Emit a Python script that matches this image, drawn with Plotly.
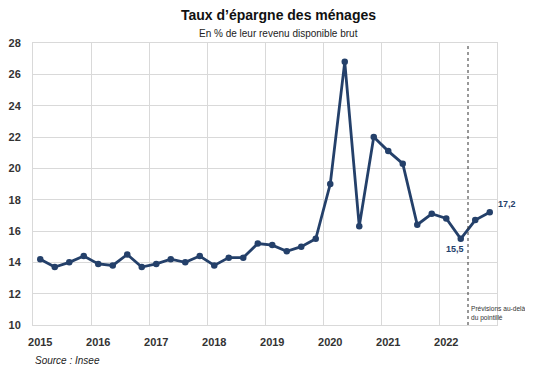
import plotly.graph_objects as go

years = ["2015", "2016", "2017", "2018", "2019", "2020", "2021", "2022"]
quarters = [f"{y}T{q}" for y in years for q in range(1, 5)]
taux = [14.2, 13.7, 14.0, 14.4,
        13.9, 13.8, 14.5, 13.7,
        13.9, 14.2, 14.0, 14.4,
        13.8, 14.3, 14.3, 15.2,
        15.1, 14.7, 15.0, 15.5,
        19.0, 26.8, 16.3, 22.0,
        21.1, 20.3, 16.4, 17.1,
        16.8, 15.5, 16.7, 17.2]
y_ticks = [10, 12, 14, 16, 18, 20, 22, 24, 26, 28]
labelled = {29: "15,5", 31: "17,2"}
forecast_start = 29.5

# page body has an 8px margin: figure is drawn at (8, 8); keep it inside the window
W, H = 517, 359
ml, mr, mt, mb = 25, 28, 35, 42
pw = W - ml - mr

idx = list(range(len(taux)))
line_col = "#24406a"
grid_col = "#d9d9d9"

fig = go.Figure()
fig.add_trace(go.Scatter(
    x=idx, y=taux, mode="lines+markers",
    line=dict(color=line_col, width=2.8),
    marker=dict(color=line_col, size=6.5),
    hovertext=quarters, showlegend=False))

fig.add_shape(type="line", x0=forecast_start, x1=forecast_start, y0=10, y1=28,
              xref="x", yref="y", line=dict(color="#333333", width=1, dash="dot"))

for i, t in labelled.items():
    if i == 31:
        fig.add_annotation(x=i, y=taux[i], text=t, showarrow=False, xref="x", yref="y",
                           xanchor="left", yshift=8, xshift=6,
                           font=dict(family="Liberation Sans", size=9, color=line_col, weight="bold"))
    else:
        fig.add_annotation(x=i, y=taux[i], text=t, showarrow=False, xref="x", yref="y",
                           yshift=-10, xshift=-6,
                           font=dict(family="Liberation Sans", size=9, color=line_col, weight="bold"))

fig.add_annotation(x=forecast_start, y=10, xref="x", yref="y", xanchor="left", yanchor="bottom",
                   xshift=1, yshift=1, align="left", showarrow=False,
                   text="Prévisions au-delà<br>du pointillé",
                   font=dict(family="Liberation Sans", size=6.6, color="#333333"))

tx = (270 - ml) / pw
fig.add_annotation(x=tx, y=1, xref="paper", yref="paper", yanchor="middle", yshift=(mt - 7),
                   text="<b>Taux d’épargne des ménages</b>", showarrow=False,
                   font=dict(family="Liberation Sans", size=14, color="#111111"))
fig.add_annotation(x=tx, y=1, xref="paper", yref="paper", yanchor="middle", yshift=(mt - 25),
                   text="En % de leur revenu disponible brut", showarrow=False,
                   font=dict(family="Liberation Sans", size=10, color="#222222"))
fig.add_annotation(x=0, y=0, xref="paper", yref="paper", xanchor="left", yanchor="middle",
                   yshift=-35,
                   text="<i>Source : Insee</i>", showarrow=False,
                   font=dict(family="Liberation Sans", size=10, color="#222222"))

fig.update_layout(
    width=W, height=H,
    margin=dict(l=ml, r=mr, t=mt, b=mb, autoexpand=False),
    paper_bgcolor="white", plot_bgcolor="white",
    xaxis=dict(range=[-0.5, len(taux) - 0.5], automargin=False,
               tickvals=list(range(0, len(taux), 4)), ticktext=years,
               showgrid=False, zeroline=False,
               ticks="outside", ticklen=7, tickcolor="rgba(0,0,0,0)",
               tickfont=dict(family="Liberation Sans", size=11, color="#333333", weight="bold"),
               minor=dict(tick0=-0.5, dtick=4, showgrid=True, gridcolor=grid_col, gridwidth=1),
               showline=True, linecolor=grid_col, mirror=True),
    yaxis=dict(range=[10, 28], tickvals=y_ticks, automargin=False,
               showgrid=True, gridcolor=grid_col, zeroline=False,
               ticks="outside", ticklen=9, tickcolor="rgba(0,0,0,0)",
               tickfont=dict(family="Liberation Sans", size=11, color="#333333", weight="bold"),
               showline=True, linecolor=grid_col, mirror=True),
)

fig.write_html("out.html")
